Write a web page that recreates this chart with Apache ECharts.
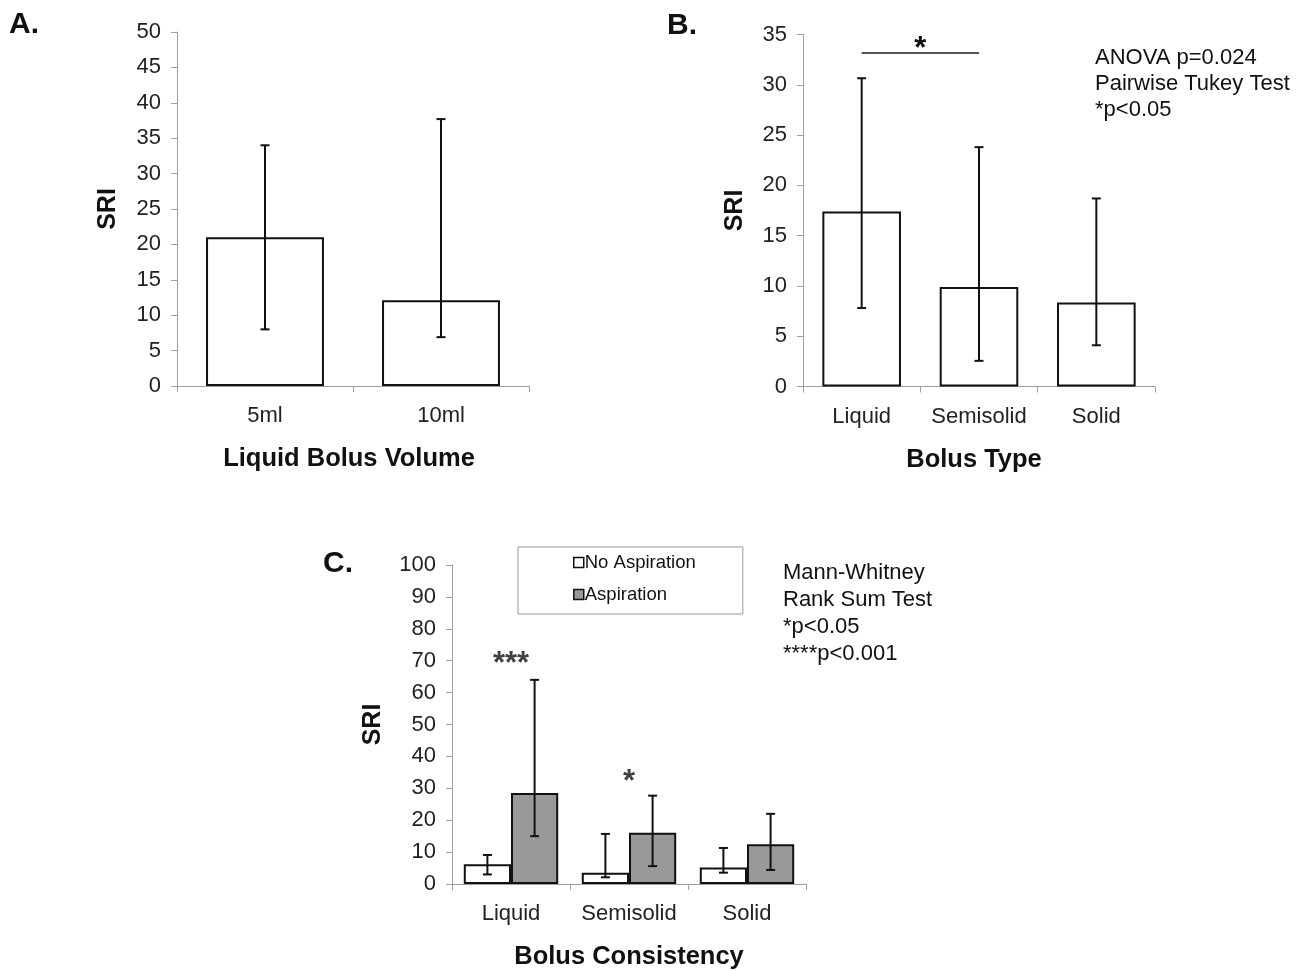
<!DOCTYPE html>
<html>
<head>
<meta charset="utf-8">
<script src="https://cdn.jsdelivr.net/npm/echarts@6/dist/echarts.min.js"></script>
<style>
  html, body { margin: 0; padding: 0; background: #fff; }
  #main { width: 1308px; height: 971px; }
</style>
</head>
<body>
<div id="main"></div>
<script>
// panel A - liquid bolus volume
var catsA = ['5ml', '10ml'];
var meanA = [21.0, 12.1];
var lowA = [8.0, 6.9];
var highA = [34.0, 37.7];

// panel B - bolus type
var catsB = ['Liquid', 'Semisolid', 'Solid'];
var meanB = [17.4, 9.9, 8.35];
var lowB = [7.8, 2.55, 4.1];
var highB = [30.65, 23.8, 18.7];
var sigLineB = 33.2;

// panel C - bolus consistency, by aspiration
var catsC = ['Liquid', 'Semisolid', 'Solid'];
var seriesNames = ['No Aspiration', 'Aspiration'];
var meanNoAsp = [6.2, 3.55, 5.2];
var lowNoAsp = [3.0, 2.1, 3.55];
var highNoAsp = [9.1, 15.7, 11.3];
var meanAsp = [28.5, 16.1, 12.5];
var lowAsp = [15.0, 5.6, 4.4];
var highAsp = [64.0, 27.7, 22.0];
var starsC = [['Liquid', 71.8, '***'], ['Semisolid', 34.7, '*']];

var FONT = '"Liberation Sans", Arial, Helvetica, sans-serif';
var axisGrey = '#a0a0a0';

function errData(lo, hi) {
  return lo.map(function (v, i) { return [i, v, hi[i]]; });
}

// draws asymmetric error bars; count/idx used for grouped bars
function errRender(count, idx) {
  return function (params, api) {
    var x = api.value(0);
    var lo = api.coord([x, api.value(1)]);
    var hi = api.coord([x, api.value(2)]);
    var offset = 0;
    if (count > 1) {
      var band = api.size([1, 0])[0];
      var bw = band * 0.8 / count;
      offset = (idx - (count - 1) / 2) * bw;
    }
    var cx = lo[0] + offset;
    var hw = 4.5;
    var st = { stroke: '#111', lineWidth: 2 };
    return {
      type: 'group',
      children: [
        { type: 'line', shape: { x1: cx, y1: hi[1], x2: cx, y2: lo[1] }, style: st },
        { type: 'line', shape: { x1: cx - hw, y1: hi[1], x2: cx + hw, y2: hi[1] }, style: st },
        { type: 'line', shape: { x1: cx - hw, y1: lo[1], x2: cx + hw, y2: lo[1] }, style: st }
      ]
    };
  };
}

function xAx(idx, cats, name, shift) {
  return {
    type: 'category', gridIndex: idx, data: cats,
    axisLine: { show: true, lineStyle: { color: axisGrey, width: 1 } },
    axisTick: { show: true, length: 6, lineStyle: { color: axisGrey } },
    axisLabel: { color: '#222', fontSize: 22, fontFamily: FONT, margin: 19, interval: 0 },
    name: name, nameLocation: 'middle', nameGap: 60,
    nameTextStyle: { color: '#111', fontSize: 25.5, fontWeight: 'bold', fontFamily: FONT,
      padding: [0, shift, 0, 0] }
  };
}

function yAx(idx, max, interval, gap) {
  return {
    type: 'value', gridIndex: idx, min: 0, max: max, interval: interval,
    splitLine: { show: false },
    axisLine: { show: true, lineStyle: { color: axisGrey, width: 1 } },
    axisTick: { show: true, length: 6, lineStyle: { color: axisGrey } },
    axisLabel: { color: '#222', fontSize: 22, fontFamily: FONT, margin: 16 },
    name: 'SRI', nameLocation: 'middle', nameRotate: 90, nameGap: gap,
    nameTextStyle: { color: '#111', fontSize: 25, fontWeight: 'bold', fontFamily: FONT }
  };
}

var whiteBar = { color: '#ffffff', borderColor: '#111', borderWidth: 2 };
var greyBar = { color: '#999999', borderColor: '#111', borderWidth: 2 };
var starFont = { color: '#111', fontSize: 31, fontWeight: 'bold', fontFamily: FONT };

var chart = echarts.init(document.getElementById('main'));

var option = {
  backgroundColor: '#fff',
  animation: false,
  grid: [
    { left: 177, top: 32, width: 352, height: 354, outerBoundsMode: 'none' },
    { left: 803, top: 34.5, width: 352, height: 352, outerBoundsMode: 'none' },
    { left: 452, top: 565, width: 354, height: 319, outerBoundsMode: 'none' }
  ],
  xAxis: [
    xAx(0, catsA, 'Liquid Bolus Volume', 8),
    xAx(1, catsB, 'Bolus Type', 10),
    xAx(2, catsC, 'Bolus Consistency', 0)
  ],
  yAxis: [
    yAx(0, 50, 5, 56),
    yAx(1, 35, 5, 55.5),
    yAx(2, 100, 10, 66)
  ],
  legend: {
    data: [
      { name: 'No Aspiration', itemStyle: { borderWidth: 1.5 } },
      { name: 'Aspiration', itemStyle: { borderWidth: 1.5 } }
    ],
    orient: 'vertical', left: 518, top: 547,
    padding: [6, 47, 10, 55], itemGap: 13,
    itemWidth: 10, itemHeight: 10, icon: 'rect',
    backgroundColor: '#fff', borderColor: '#999', borderWidth: 1, borderRadius: 0,
    textStyle: { color: '#111', fontSize: 18.5, fontFamily: FONT, padding: [0, 0, 0, -4] }
  },
  graphic: [
    { type: 'text', left: 9, top: 10, style: { text: 'A.', font: 'bold 30px ' + FONT, fill: '#111' } },
    { type: 'text', left: 667, top: 11, style: { text: 'B.', font: 'bold 30px ' + FONT, fill: '#111' } },
    { type: 'text', left: 323, top: 549, style: { text: 'C.', font: 'bold 30px ' + FONT, fill: '#111' } },
    { type: 'text', left: 1095, top: 45, style: {
        text: 'ANOVA p=0.024\nPairwise Tukey Test\n*p<0.05',
        font: '22px ' + FONT, fill: '#111', lineHeight: 25.8 } },
    { type: 'text', left: 783, top: 560, style: {
        text: 'Mann-Whitney\nRank Sum Test\n*p<0.05\n****p<0.001',
        font: '22px ' + FONT, fill: '#111', lineHeight: 26.7 } }
  ],
  series: [
    {
      type: 'bar', xAxisIndex: 0, yAxisIndex: 0, data: meanA,
      barWidth: '67%', itemStyle: whiteBar
    },
    {
      type: 'custom', xAxisIndex: 0, yAxisIndex: 0, z: 5,
      renderItem: errRender(1, 0), encode: { x: 0, y: [1, 2] },
      data: errData(lowA, highA)
    },
    {
      type: 'bar', xAxisIndex: 1, yAxisIndex: 1, data: meanB,
      barWidth: '67%', itemStyle: whiteBar,
      markLine: {
        silent: true, symbol: 'none',
        lineStyle: { color: '#555', width: 2, type: 'solid' },
        label: Object.assign({ show: true, position: 'middle', formatter: '*', distance: -12 }, starFont),
        data: [[{ coord: [catsB[0], sigLineB] }, { coord: [catsB[1], sigLineB] }]]
      }
    },
    {
      type: 'custom', xAxisIndex: 1, yAxisIndex: 1, z: 5,
      renderItem: errRender(1, 0), encode: { x: 0, y: [1, 2] },
      data: errData(lowB, highB)
    },
    {
      name: seriesNames[0], type: 'bar', xAxisIndex: 2, yAxisIndex: 2, data: meanNoAsp,
      barGap: '0%', barCategoryGap: '20%', itemStyle: whiteBar
    },
    {
      name: seriesNames[1], type: 'bar', xAxisIndex: 2, yAxisIndex: 2, data: meanAsp,
      barGap: '0%', barCategoryGap: '20%', itemStyle: greyBar
    },
    {
      type: 'custom', xAxisIndex: 2, yAxisIndex: 2, z: 5,
      renderItem: errRender(2, 0), encode: { x: 0, y: [1, 2] },
      data: errData(lowNoAsp, highNoAsp)
    },
    {
      type: 'custom', xAxisIndex: 2, yAxisIndex: 2, z: 5,
      renderItem: errRender(2, 1), encode: { x: 0, y: [1, 2] },
      data: errData(lowAsp, highAsp)
    },
    {
      type: 'scatter', xAxisIndex: 2, yAxisIndex: 2, symbolSize: 0, silent: true,
      data: starsC.map(function (s) { return { value: [s[0], s[1]], text: s[2] }; }),
      label: Object.assign({
        show: true, position: 'inside', offset: [0, 9],
        formatter: function (p) { return p.data.text; }
      }, starFont)
    }
  ]
};

chart.setOption(option);
</script>
</body>
</html>
